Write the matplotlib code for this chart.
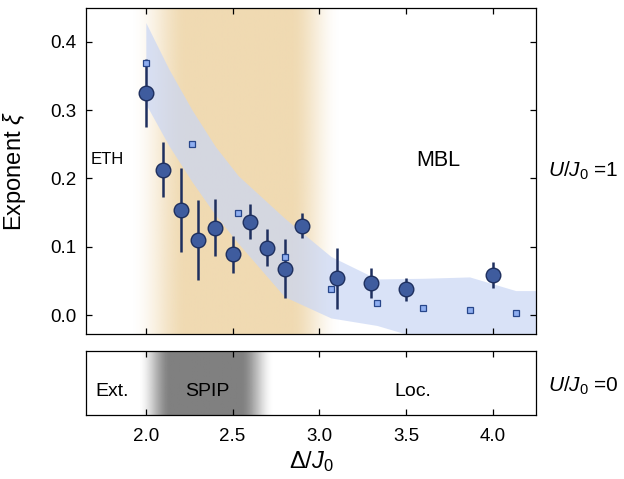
import numpy as np
import matplotlib
matplotlib.use('Agg')
import matplotlib.pyplot as plt

plt.rcParams['font.family'] = ['Liberation Sans', 'DejaVu Sans']
plt.rcParams['mathtext.fontset'] = 'custom'
plt.rcParams['mathtext.rm'] = 'Liberation Sans'
plt.rcParams['mathtext.it'] = 'Liberation Sans:italic'

# measured exponent (circles with error bars)
delta_exp = [2.0, 2.1, 2.2, 2.3, 2.4, 2.5, 2.6, 2.7, 2.8, 2.9, 3.1, 3.3, 3.5, 4.0]
xi_exp = [0.325, 0.213, 0.154, 0.110, 0.128, 0.089, 0.137, 0.099, 0.068, 0.131, 0.054, 0.047, 0.038, 0.059]
xi_err = [0.050, 0.040, 0.062, 0.059, 0.042, 0.027, 0.025, 0.027, 0.043, 0.018, 0.045, 0.022, 0.017, 0.019]

# numerics (squares)
delta_num = [2.0, 2.267, 2.533, 2.8, 3.067, 3.333, 3.6, 3.867, 4.133]
xi_num = [0.369, 0.250, 0.149, 0.085, 0.038, 0.0185, 0.011, 0.0073, 0.0038]

# shaded band
delta_band = [2.0, 2.133, 2.267, 2.4, 2.533, 2.8, 3.067, 3.333, 3.6, 3.867, 4.133, 4.3]
band_hi = [0.428, 0.36, 0.300, 0.247, 0.204, 0.142, 0.086, 0.053, 0.054, 0.056, 0.036, 0.036]
band_lo = [0.309, 0.248, 0.195, 0.147, 0.105, 0.027, -0.004, -0.015, -0.035, -0.040, -0.045, -0.045]

xticks = [2.0, 2.5, 3.0, 3.5, 4.0]
yticks = [0.0, 0.1, 0.2, 0.3, 0.4]
XLIM = (1.655, 4.25)


def ramp(x, a0, a1, b0, b1):
    up = np.clip((x - a0) / (a1 - a0), 0, 1)
    down = np.clip((b1 - x) / (b1 - b0), 0, 1)
    up = up * up * (3 - 2 * up)
    down = down * down * (3 - 2 * down)
    return np.minimum(up, down)


def gradient(ax, rgb, a0, a1, b0, b1, ylim):
    xs = np.linspace(XLIM[0], XLIM[1], 600)
    img = np.zeros((1, len(xs), 4))
    img[0, :, :3] = np.array(rgb) / 255.0
    img[0, :, 3] = ramp(xs, a0, a1, b0, b1)
    ax.imshow(img, extent=[XLIM[0], XLIM[1], ylim[0], ylim[1]], aspect='auto',
              interpolation='bilinear', zorder=0)


fig = plt.figure(figsize=(6.24, 4.79), dpi=100)
ax = fig.add_axes([0.1378, 0.3027, 0.7212, 0.6816])
ax2 = fig.add_axes([0.1378, 0.1336, 0.7212, 0.1326])

YLIM = (-0.0275, 0.45)
gradient(ax, (240, 218, 178), 1.91, 2.24, 2.83, 3.12, YLIM)
ax.fill_between(delta_band, band_lo, band_hi, color='#c9d6f5', alpha=0.7, lw=0, zorder=1)

ax.errorbar(delta_exp, xi_exp, yerr=xi_err, fmt='o', ms=10.5, mfc='#3f5c9e', mec='#1e2f5e',
            mew=1.0, ecolor='#1e2f5e', elinewidth=1.8, capsize=0, zorder=3)
ax.plot(delta_num, xi_num, 's', ms=4.5, mfc='#8eaef0', mec='#27468a', mew=0.9, zorder=4)

ax.set_xlim(XLIM)
ax.set_ylim(YLIM)
ax.set_xticks(xticks)
ax.set_yticks(yticks)
ax.set_xticklabels([])
ax.set_yticklabels(['%.1f' % v for v in yticks])
ax.tick_params(direction='in', top=True, right=True, length=4, width=0.9, labelsize=13.5, pad=7)
ax.set_ylabel(r'Exponent $\xi$', fontsize=17)
ax.yaxis.set_label_coords(-0.128, 0.5)

ax.text(1.683, 0.221, 'ETH', fontsize=12)
ax.text(3.684, 0.218, 'MBL', fontsize=15.5, ha='center')

gradient(ax2, (128, 128, 128), 1.955, 2.14, 2.545, 2.735, (0, 1))
ax2.set_xlim(XLIM)
ax2.set_ylim(0, 1)
ax2.set_xticks(xticks)
ax2.set_xticklabels(['%.1f' % v for v in xticks])
ax2.set_yticks([])
ax2.tick_params(direction='in', top=True, length=4, width=0.9, labelsize=13.5, pad=9)
ax2.set_xlabel(r'$\Delta/J_0$', fontsize=17, labelpad=3)

ax2.text(1.711, 0.30, 'Ext.', fontsize=14)
ax2.text(2.357, 0.30, 'SPIP', fontsize=14, ha='center')
ax2.text(3.537, 0.30, 'Loc.', fontsize=14, ha='center')

for a in (ax, ax2):
    for s in a.spines.values():
        s.set_linewidth(0.9)

fig.text(0.878, 0.631, r'$U/J_0$ =1', fontsize=15)
fig.text(0.878, 0.182, r'$U/J_0$ =0', fontsize=15)

fig.savefig('out.png', dpi=100)
